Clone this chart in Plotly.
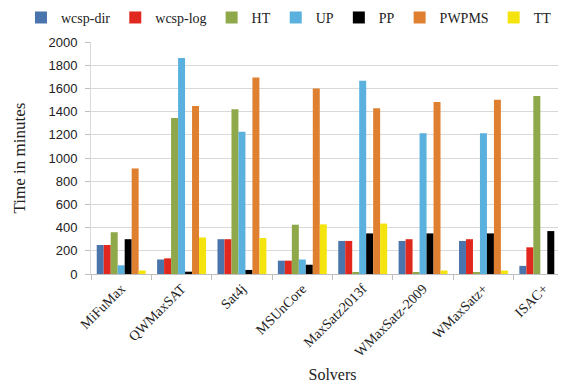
import plotly.graph_objects as go

solvers = ["MiFuMax", "QWMaxSAT", "Sat4j", "MSUnCore", "MaxSatz2013f",
           "WMaxSatz-2009", "WMaxSatz+", "ISAC+"]
series_names = ["wcsp-dir", "wcsp-log", "HT", "UP", "PP", "PWPMS", "TT"]
wcsp_dir = [250, 125, 300, 115, 285, 285, 285, 70]
wcsp_log = [250, 135, 300, 115, 285, 300, 300, 230]
ht = [360, 1345, 1420, 425, 10, 10, 10, 1535]
up = [75, 1862, 1227, 125, 1667, 1213, 1213, 0]
pp = [300, 20, 35, 80, 350, 350, 350, 370]
pwpms = [910, 1448, 1693, 1600, 1428, 1483, 1503, 0]
tt = [30, 315, 310, 428, 435, 30, 30, 420]

values = [wcsp_dir, wcsp_log, ht, up, pp, pwpms, tt]
colors = ["#4A74AC", "#E0281E", "#8FA84A", "#5BB1DE", "#000000", "#DE8030", "#F5E30E"]

fig = go.Figure()
for name, vals, col in zip(series_names, values, colors):
    fig.add_trace(go.Bar(name=name, x=solvers, y=vals, marker_color=col,
                         marker_line_width=0))

serif = "Liberation Serif"
sans = "Liberation Sans"
fig.update_layout(
    width=566, height=387,
    margin=dict(l=83, r=0, t=34, b=121, autoexpand=False),
    paper_bgcolor="white", plot_bgcolor="white",
    barmode="group", bargap=0.19, bargroupgap=0,
    legend=dict(orientation="h", x=-0.145, xanchor="left", y=1.035, yanchor="bottom",
                itemwidth=30, bgcolor="rgba(0,0,0,0)",
                font=dict(family=serif, size=14, color="#222"),
                tracegroupgap=0, traceorder="normal"),
    showlegend=True,
)
fig.update_xaxes(
    tickangle=-45, tickfont=dict(family=serif, size=14, color="#222"),
    showline=True, linecolor="#BFBFBF", linewidth=1,
    ticks="outside", tickcolor="#BFBFBF", ticklen=5, tickson="boundaries",
    title=dict(text="Solvers", font=dict(family=serif, size=16, color="#222"), standoff=10),
)
fig.update_yaxes(
    range=[0, 2000], dtick=200,
    tickfont=dict(family=sans, size=13, color="#222"),
    showgrid=True, gridcolor="#D9D9D9", gridwidth=1,
    showline=True, linecolor="#D9D9D9", zeroline=False,
    ticks="outside", tickcolor="#BFBFBF", ticklen=5, ticklabelstandoff=5,
    title=dict(text="Time in minutes", font=dict(family=serif, size=17, color="#222"), standoff=18),
)
fig.write_html("out.html")
